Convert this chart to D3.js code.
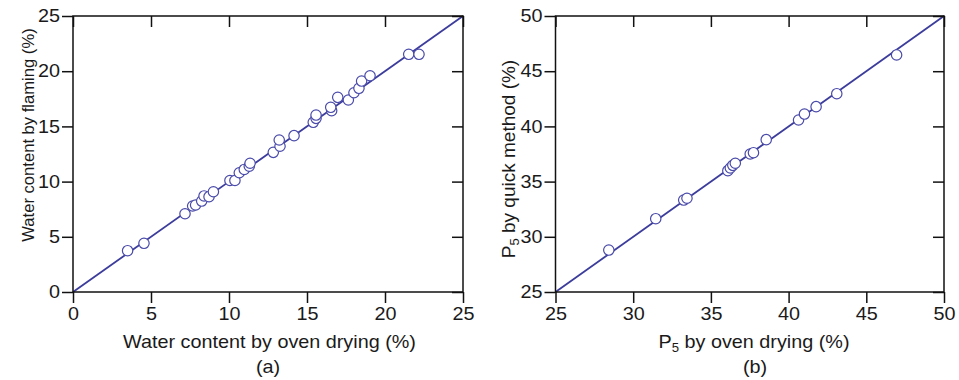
<!DOCTYPE html>
<html>
<head>
<meta charset="utf-8">
<script src="https://cdn.jsdelivr.net/npm/d3@7"></script>
<style>
  body { margin: 0; background: #fff; }
  svg text { font-family: "Liberation Sans", Arial, sans-serif; fill: #1a1a1a; }
</style>
</head>
<body>
<svg id="chart" width="959" height="380"></svg>
<script>
// Panel (a): water content by oven drying (x) vs by flaming (y), %
const waterOven    = [3.5, 4.55, 7.18, 7.67, 7.86, 8.25, 8.4, 8.72, 9.0, 10.06, 10.38, 10.66, 10.98, 11.3, 11.35, 12.84, 13.27, 13.22, 14.17, 15.4, 15.58, 15.58, 16.58, 16.52, 16.97, 17.65, 18.01, 18.33, 18.5, 19.04, 21.52, 22.18];
const waterFlaming = [3.74, 4.41, 7.09, 7.79, 7.88, 8.24, 8.7, 8.63, 9.08, 10.1, 10.1, 10.8, 11.1, 11.4, 11.66, 12.65, 13.2, 13.77, 14.16, 15.37, 15.73, 16.03, 16.42, 16.73, 17.63, 17.39, 18.05, 18.45, 19.11, 19.59, 21.53, 21.53];
// Panel (b): P5 by oven drying (x) vs by quick method (y), %
const p5Oven  = [28.43, 31.45, 33.25, 33.46, 36.09, 36.25, 36.41, 36.57, 37.53, 37.74, 38.56, 40.64, 41.02, 41.77, 43.1, 46.95];
const p5Quick = [28.8, 31.64, 33.33, 33.49, 35.99, 36.23, 36.47, 36.66, 37.5, 37.62, 38.8, 40.58, 41.12, 41.79, 42.96, 46.47];
const ticksA = [0, 5, 10, 15, 20, 25];
const ticksB = [25, 30, 35, 40, 45, 50];

const svg = d3.select("#chart");
const lineColor = "#3c3c9c";
const markColor = "#4a4aaa";
const sx = 1.1;   // horizontal stretch of the original figure's lettering
const fs = 18;

function panel(cfg) {
  const g = svg.append("g");
  const x = d3.scaleLinear().domain(cfg.domain).range([cfg.left, cfg.right]);
  const y = d3.scaleLinear().domain(cfg.domain).range([cfg.bottom, cfg.top]);
  const tl = 11;

  g.append("line")
    .attr("x1", x(cfg.domain[0])).attr("y1", y(cfg.domain[0]))
    .attr("x2", x(cfg.domain[1])).attr("y2", y(cfg.domain[1]))
    .attr("stroke", lineColor).attr("stroke-width", 1.8);

  const axB = g.append("g").attr("transform", `translate(0,${cfg.bottom})`)
    .call(d3.axisBottom(x).tickValues(cfg.ticks).tickSize(tl).tickPadding(4).tickFormat(d3.format("d")));
  const axL = g.append("g").attr("transform", `translate(${cfg.left},0)`)
    .call(d3.axisLeft(y).tickValues(cfg.ticks).tickSize(tl).tickPadding(3).tickFormat(d3.format("d")));
  const axT = g.append("g").attr("transform", `translate(0,${cfg.top})`)
    .call(d3.axisBottom(x).tickValues(cfg.ticks).tickSize(tl).tickFormat(""));
  const axR = g.append("g").attr("transform", `translate(${cfg.right},0)`)
    .call(d3.axisLeft(y).tickValues(cfg.ticks).tickSize(tl).tickFormat(""));
  [axB, axL, axT, axR].forEach(a => {
    a.select(".domain").remove();
    a.selectAll("line").attr("stroke", "#111").attr("stroke-width", 1.5);
    a.selectAll("text").attr("font-size", fs).attr("fill", "#1a1a1a")
      .attr("font-family", "Liberation Sans, Arial, sans-serif")
      .attr("transform", `scale(${sx},1)`);
  });
  axB.selectAll("text").attr("dy", "0.71em");
  axL.selectAll("text").attr("x", -13 / sx);

  g.append("rect").attr("x", cfg.left).attr("y", cfg.top)
    .attr("width", cfg.right - cfg.left).attr("height", cfg.bottom - cfg.top)
    .attr("fill", "none").attr("stroke", "#111").attr("stroke-width", 1.5);

  g.selectAll("circle.pt").data(cfg.xs.map((v, i) => [v, cfg.ys[i]]))
    .enter().append("circle").attr("class", "pt")
    .attr("cx", d => x(d[0])).attr("cy", d => y(d[1])).attr("r", 5.2)
    .attr("fill", "#fff").attr("stroke", markColor).attr("stroke-width", 1.2);

  return g;
}

function hText(g, x, y, size) {
  return g.append("text").attr("transform", `translate(${x},${y}) scale(${sx},1)`)
    .attr("text-anchor", "middle").attr("font-size", size);
}

const gA = panel({ domain: [0, 25], left: 73, right: 463, top: 16, bottom: 292,
  ticks: ticksA, xs: waterOven, ys: waterFlaming });
const gB = panel({ domain: [25, 50], left: 555.5, right: 944, top: 16, bottom: 292,
  ticks: ticksB, xs: p5Oven, ys: p5Quick });

hText(gA, 269.5, 348, fs).text("Water content by oven drying (%)");
hText(gA, 268, 373, fs).text("(a)");
gA.append("text").attr("transform", "translate(34,135) rotate(-90)")
  .attr("text-anchor", "middle").attr("font-size", 16.6).text("Water content by flaming (%)");

const tb = hText(gB, 754, 348, fs);
tb.append("tspan").text("P");
tb.append("tspan").attr("font-size", 12).attr("dy", 4).text("5");
tb.append("tspan").attr("dy", -4).text(" by oven drying (%)");
hText(gB, 755, 373, fs).text("(b)");
const ty = gB.append("text").attr("transform", "translate(515,159) rotate(-90)")
  .attr("text-anchor", "middle").attr("font-size", 19);
ty.append("tspan").text("P");
ty.append("tspan").attr("font-size", 13).attr("dy", 4).text("5");
ty.append("tspan").attr("dy", -4).text(" by quick method (%)");
</script>
</body>
</html>
